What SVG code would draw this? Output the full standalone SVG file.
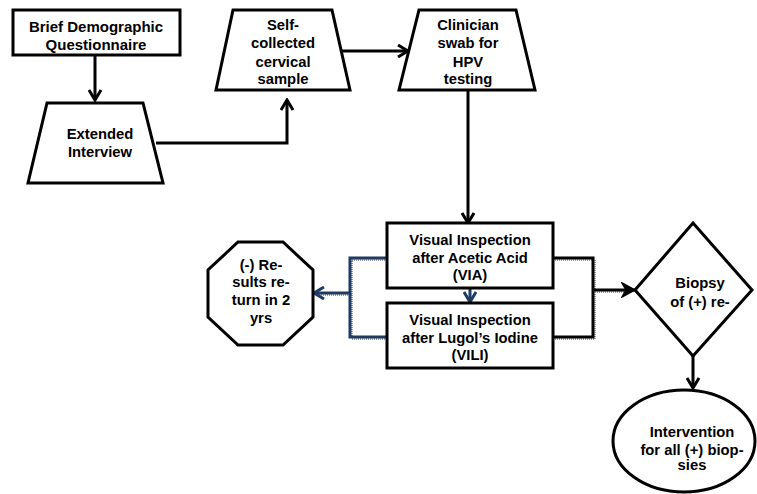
<svg xmlns="http://www.w3.org/2000/svg" width="757" height="494" viewBox="0 0 757 494">
<style>
.shape{fill:#fff;stroke:#000;stroke-width:3;stroke-linejoin:miter}
.t{font-family:"Liberation Sans",Arial,sans-serif;font-weight:bold;font-size:14.8px;fill:#000;text-anchor:middle}
.big{font-size:15px}
.c{fill:none;stroke:#000;stroke-width:3}
.blue{fill:none;stroke:#1f3b63;stroke-width:3}
.sh{fill:none;stroke:#9a9a9a;stroke-width:2;stroke-dasharray:1 1}
</style>
<defs>
<marker id="ah" markerUnits="userSpaceOnUse" markerWidth="14" markerHeight="14" refX="12" refY="7" orient="auto">
<path d="M2,1 L12,7 L2,13" fill="none" stroke="#000" stroke-width="3"/>
</marker>
<marker id="ahb" markerUnits="userSpaceOnUse" markerWidth="14" markerHeight="14" refX="12" refY="7" orient="auto">
<path d="M2,1 L12,7 L2,13" fill="none" stroke="#1f3b63" stroke-width="3"/>
</marker>
<marker id="ahf" markerUnits="userSpaceOnUse" markerWidth="16" markerHeight="16" refX="14" refY="8" orient="auto">
<path d="M1,1 L14,8 L1,15 L5,8 Z" fill="#000" stroke="#000" stroke-width="1.5"/>
</marker>
</defs>
<g id="connectors">
<path class="c" d="M95,56 V100" marker-end="url(#ah)"/>
<path class="c" d="M156,143 H287 V100" marker-end="url(#ah)"/>
<path class="c" d="M341,51 H408" marker-end="url(#ah)"/>
<path class="c" d="M468,91 V223" marker-end="url(#ah)"/>
<path class="blue" d="M470,289 V302" marker-end="url(#ahb)"/>
<path class="sh" d="M387,260 H352 V339 H387 M352,295 H318"/>
<path class="blue" d="M387,258 H350 V337 H387"/>
<path class="blue" d="M350,293 H314" marker-end="url(#ahb)"/>
<path class="sh" d="M553,260 H595 V339 H553 M595,292 H628"/>
<path class="c" d="M553,258 H593 V337 H553"/>
<path class="c" d="M593,290 H635" marker-end="url(#ahf)"/>
<path class="c" d="M693,356 V388" marker-end="url(#ah)"/>
</g>
<g id="brief">
<rect class="shape" x="13" y="10" width="167" height="45"/>
<text class="t big" x="96" y="32">Brief Demographic</text>
<text class="t big" x="96" y="50">Questionnaire</text>
</g>
<g id="extended">
<polygon class="shape" points="47,103 143,103 163,183 28,183"/>
<text class="t" x="100" y="139">Extended</text>
<text class="t" x="100" y="157">Interview</text>
</g>
<g id="self">
<polygon class="shape" points="233,10 332,10 350,90 216,90"/>
<text class="t" x="283" y="30">Self-</text>
<text class="t" x="283" y="48">collected</text>
<text class="t" x="283" y="67">cervical</text>
<text class="t" x="283" y="84">sample</text>
</g>
<g id="clinician">
<polygon class="shape" points="419,10 516,10 535,90 399,90"/>
<text class="t" x="468" y="30">Clinician</text>
<text class="t" x="468" y="48">swab for</text>
<text class="t" x="468" y="67">HPV</text>
<text class="t" x="468" y="84">testing</text>
</g>
<g id="via">
<rect class="shape" x="387" y="223" width="166" height="65"/>
<text class="t" x="470" y="245">Visual Inspection</text>
<text class="t" x="470" y="263">after Acetic Acid</text>
<text class="t" x="470" y="280">(VIA)</text>
</g>
<g id="vili">
<rect class="shape" x="387" y="303" width="166" height="65"/>
<text class="t" x="470" y="325">Visual Inspection</text>
<text class="t" x="470" y="343">after Lugol’s Iodine</text>
<text class="t" x="470" y="360">(VILI)</text>
</g>
<g id="results">
<polygon class="shape" points="238,242 283,242 313,270 313,317 283,345 238,345 208,317 208,270"/>
<text class="t" x="261" y="270">(-) Re-</text>
<text class="t" x="261" y="287">sults re-</text>
<text class="t" x="261" y="305">turn in 2</text>
<text class="t" x="261" y="323">yrs</text>
</g>
<g id="biopsy">
<polygon class="shape" points="693,223 752,290 693,356 635,290"/>
<text class="t" x="700" y="288">Biopsy</text>
<text class="t" x="700" y="307">of (+) re-</text>
</g>
<g id="intervention">
<ellipse class="shape" cx="684" cy="441" rx="71" ry="51"/>
<text class="t" x="692" y="437">Intervention</text>
<text class="t" x="692" y="455">for all (+) biop-</text>
<text class="t" x="692" y="470">sies</text>
</g>
</svg>
